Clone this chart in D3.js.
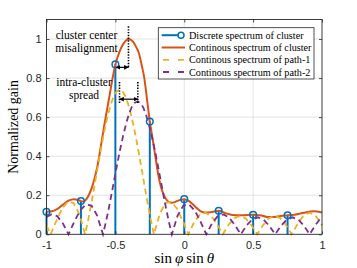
<!DOCTYPE html>
<html>
<head>
<meta charset="utf-8">
<script src="https://cdn.jsdelivr.net/npm/d3@7"></script>
<style>
  body { margin: 0; background: #fff; }
  .tick-label { font-family: 'Liberation Sans', Arial, sans-serif; font-size: 11px; fill: #262626; }
  .serif { font-family: 'Liberation Serif', 'Times New Roman', serif; fill: #000; }
</style>
</head>
<body>
<svg id="chart" width="357" height="268"></svg>
<script>
// ticks
const xTicks = [-1, -0.5, 0, 0.5, 1];
const yTicks = [0, 0.2, 0.4, 0.6, 0.8, 1];

// discrete spectrum of cluster (stems)
const stemX = [-1, -0.75, -0.5, -0.25, 0, 0.25, 0.5, 0.75];
const stemY = [0.115, 0.17, 0.87, 0.578, 0.18, 0.12, 0.1, 0.097];

// continuous spectrum of cluster
const clusterX = [-1, -0.96, -0.92, -0.88, -0.84, -0.8, -0.77, -0.75, -0.73, -0.71, -0.69,
  -0.67, -0.65, -0.63, -0.615, -0.6, -0.58, -0.56, -0.54, -0.52, -0.5,
  -0.48, -0.46, -0.44, -0.42, -0.405, -0.39, -0.37, -0.35, -0.33, -0.31,
  -0.29, -0.27, -0.25, -0.23, -0.21, -0.19, -0.17, -0.15, -0.13, -0.11,
  -0.09, -0.07, -0.05, -0.03, 0, 0.03, 0.06, 0.09, 0.12, 0.15,
  0.19, 0.25, 0.3, 0.35, 0.41, 0.5, 0.55, 0.6, 0.64, 0.7,
  0.75, 0.8, 0.86, 0.94, 1];
const clusterY = [0.115, 0.118, 0.13, 0.152, 0.172, 0.18, 0.176, 0.17, 0.168, 0.18, 0.205,
  0.24, 0.29, 0.35, 0.41, 0.475, 0.56, 0.64, 0.72, 0.8, 0.87,
  0.915, 0.952, 0.978, 0.994, 1.0, 0.997, 0.985, 0.96, 0.93, 0.87,
  0.8, 0.69, 0.578, 0.49, 0.4, 0.31, 0.245, 0.205, 0.178, 0.165,
  0.162, 0.165, 0.171, 0.176, 0.18, 0.172, 0.155, 0.135, 0.118, 0.112,
  0.113, 0.12, 0.108, 0.099, 0.097, 0.1, 0.098, 0.089, 0.088, 0.094,
  0.097, 0.1, 0.109, 0.118, 0.112];

// continuous spectrum of path-1
const path1X = [-1, -0.97, -0.928, -0.887, -0.845, -0.803, -0.762, -0.72,
  -0.699, -0.678, -0.6575, -0.637, -0.616, -0.595, -0.574, -0.553, -0.5325, -0.512, -0.491,
  -0.47, -0.449, -0.428, -0.4075, -0.387, -0.366, -0.345, -0.324, -0.303, -0.2825, -0.262, -0.241,
  -0.22, -0.178, -0.137, -0.095, -0.053, -0.012, 0.03, 0.072, 0.113, 0.155, 0.197, 0.238,
  0.28, 0.322, 0.363, 0.405, 0.447, 0.488, 0.53, 0.572, 0.613, 0.655, 0.697, 0.738,
  0.78, 0.822, 0.863, 0.905, 0.947, 0.988, 1];
const path1Y = [0.046, 0, 0.07, 0.132, 0.167, 0.16, 0.104, 0,
  0.068, 0.144, 0.225, 0.309, 0.393, 0.474, 0.549, 0.614, 0.667, 0.707, 0.732,
  0.74, 0.732, 0.707, 0.667, 0.614, 0.549, 0.474, 0.393, 0.309, 0.225, 0.144, 0.068,
  0, 0.104, 0.16, 0.167, 0.132, 0.07, 0, 0.062, 0.101, 0.111, 0.093, 0.052,
  0, 0.049, 0.083, 0.094, 0.081, 0.046, 0, 0.046, 0.081, 0.094, 0.083, 0.049,
  0, 0.052, 0.093, 0.111, 0.101, 0.062, 0.046];

// continuous spectrum of path-2
const path2X = [-1, -0.965, -0.923, -0.882, -0.84, -0.798, -0.757, -0.715, -0.673, -0.632,
  -0.59, -0.569, -0.548, -0.5275, -0.507, -0.486, -0.465, -0.444, -0.423, -0.4025, -0.382, -0.361,
  -0.34, -0.319, -0.298, -0.2775, -0.257, -0.236, -0.215, -0.194, -0.173, -0.1525, -0.132, -0.111,
  -0.09, -0.048, -0.007, 0.035, 0.077, 0.118, 0.16, 0.202, 0.243, 0.285, 0.327, 0.368,
  0.41, 0.452, 0.493, 0.535, 0.577, 0.618, 0.66, 0.702, 0.743, 0.785, 0.827, 0.868,
  0.91, 0.952, 0.993, 1];
const path2Y = [0.089, 0.102, 0.093, 0.057, 0, 0.065, 0.121, 0.153, 0.147, 0.096,
  0, 0.062, 0.132, 0.207, 0.284, 0.362, 0.436, 0.504, 0.564, 0.613, 0.65, 0.673,
  0.68, 0.673, 0.65, 0.613, 0.564, 0.504, 0.436, 0.362, 0.284, 0.207, 0.132, 0.062,
  0, 0.096, 0.147, 0.153, 0.121, 0.065, 0, 0.057, 0.093, 0.102, 0.085, 0.047,
  0, 0.045, 0.076, 0.087, 0.074, 0.043, 0, 0.043, 0.074, 0.087, 0.076, 0.045,
  0, 0.047, 0.085, 0.089];

const legendLabels = [
  'Discrete spectrum of cluster',
  'Continous spectrum of cluster',
  'Continous spectrum of path-1',
  'Continous spectrum of path-2',
];

const colors = { stem: '#0072BD', cluster: '#D95319', path1: '#EDB120', path2: '#7E2F8E' };

const box = { left: 46.5, right: 322, top: 19.5, bottom: 234.3 };

const svg = d3.select('#chart');
svg.append('rect').attr('width', 357).attr('height', 268).attr('fill', '#fff');

const x = d3.scaleLinear().domain([-1, 1]).range([box.left, box.right]);
const y = d3.scaleLinear().domain([0, 1.1]).range([box.bottom, box.top]);

const fmt = d => String(d);

// grid
const grid = svg.append('g').attr('class', 'grid');
grid.selectAll('line.gx')
  .data(xTicks.slice(1, -1))
  .enter()
  .append('line')
  .attr('x1', d => x(d)).attr('x2', d => x(d))
  .attr('y1', box.top).attr('y2', box.bottom)
  .attr('stroke', '#e3e3e3').attr('stroke-width', 1);
grid.selectAll('line.gy')
  .data(yTicks.slice(1))
  .enter()
  .append('line')
  .attr('x1', box.left).attr('x2', box.right)
  .attr('y1', d => y(d)).attr('y2', d => y(d))
  .attr('stroke', '#e3e3e3').attr('stroke-width', 1);

const plot = svg.append('g');

// stems
stemX.forEach((sx, i) => {
  plot.append('line')
    .attr('x1', x(sx)).attr('x2', x(sx))
    .attr('y1', y(0)).attr('y2', y(stemY[i]))
    .attr('stroke', colors.stem)
    .attr('stroke-width', 2);
});

const line = d3.line().x(d => x(d[0])).y(d => y(d[1]));

plot.append('path')
  .datum(d3.zip(clusterX, clusterY))
  .attr('d', line.curve(d3.curveMonotoneX))
  .attr('fill', 'none')
  .attr('stroke', colors.cluster)
  .attr('stroke-width', 2);

plot.append('path')
  .datum(d3.zip(path1X, path1Y))
  .attr('d', line.curve(d3.curveLinear))
  .attr('fill', 'none')
  .attr('stroke', colors.path1)
  .attr('stroke-width', 1.8)
  .attr('stroke-dasharray', '6,4');

plot.append('path')
  .datum(d3.zip(path2X, path2Y))
  .attr('d', line.curve(d3.curveLinear))
  .attr('fill', 'none')
  .attr('stroke', colors.path2)
  .attr('stroke-width', 1.8)
  .attr('stroke-dasharray', '6,4');

// stem markers
plot.selectAll('circle.m')
  .data(d3.zip(stemX, stemY))
  .enter()
  .append('circle')
  .attr('cx', d => x(d[0]))
  .attr('cy', d => y(d[1]))
  .attr('r', 3.3)
  .attr('fill', 'none')
  .attr('stroke', colors.stem)
  .attr('stroke-width', 1.5);

// axes (MATLAB style: inward ticks on all sides)
const axisStyle = g => {
  g.select('.domain').remove();
  g.selectAll('.tick line').attr('stroke', '#262626').attr('stroke-width', 0.8);
  g.selectAll('.tick text').attr('class', 'tick-label').attr('fill', null);
};

svg.append('g')
  .attr('transform', `translate(0,${box.bottom})`)
  .call(d3.axisBottom(x).tickValues(xTicks).tickSize(-3).tickPadding(7).tickFormat(fmt))
  .call(axisStyle);
svg.append('g')
  .attr('transform', `translate(0,${box.top})`)
  .call(d3.axisTop(x).tickValues(xTicks).tickSize(-3).tickFormat(''))
  .call(axisStyle);
svg.append('g')
  .attr('transform', `translate(${box.left},0)`)
  .call(d3.axisLeft(y).tickValues(yTicks).tickSize(-3).tickPadding(5).tickFormat(fmt))
  .call(axisStyle);
svg.append('g')
  .attr('transform', `translate(${box.right},0)`)
  .call(d3.axisRight(y).tickValues(yTicks).tickSize(-3).tickFormat(''))
  .call(axisStyle);

svg.selectAll('.tick-label').attr('font-family', null).attr('font-size', null);

svg.append('rect')
  .attr('x', box.left).attr('y', box.top)
  .attr('width', box.right - box.left).attr('height', box.bottom - box.top)
  .attr('fill', 'none').attr('stroke', '#262626').attr('stroke-width', 0.9);

// axis titles
const xt = svg.append('text')
  .attr('class', 'serif')
  .attr('x', (box.left + box.right) / 2)
  .attr('y', 263)
  .attr('text-anchor', 'middle')
  .attr('font-size', 15);
xt.append('tspan').text('sin\u2009');
xt.append('tspan').attr('font-style', 'italic').text('\u03C6');
xt.append('tspan').text('\u2009sin\u2009');
xt.append('tspan').attr('font-style', 'italic').text('\u03B8');

svg.append('text')
  .attr('class', 'serif')
  .attr('transform', `translate(18,${(box.top + box.bottom) / 2}) rotate(-90)`)
  .attr('text-anchor', 'middle')
  .attr('font-size', 14)
  .text('Normalized gain');

// annotations
const ann = svg.append('g').attr('class', 'annotation');
const dotted = (x1, y1, x2, y2) => ann.append('line')
  .attr('x1', x1).attr('y1', y1).attr('x2', x2).attr('y2', y2)
  .attr('stroke', '#000').attr('stroke-width', 1.6).attr('stroke-dasharray', '1.4,1.4');

svg.append('defs').append('marker')
  .attr('id', 'ah')
  .attr('viewBox', '0 0 10 10')
  .attr('refX', 9).attr('refY', 5)
  .attr('markerWidth', 4).attr('markerHeight', 4)
  .attr('orient', 'auto-start-reverse')
  .append('path')
  .attr('d', 'M0,0 L10,5 L0,10 z')
  .attr('fill', '#000');

const arrow = (x1, x2, yy) => ann.append('line')
  .attr('x1', x1).attr('y1', yy).attr('x2', x2).attr('y2', yy)
  .attr('stroke', '#000').attr('stroke-width', 1.2)
  .attr('marker-start', 'url(#ah)').attr('marker-end', 'url(#ah)');

dotted(x(-0.405), y(1.065), x(-0.405), y(0.85));
arrow(x(-0.495), x(-0.405), y(0.855));
dotted(x(-0.47), y(0.78), x(-0.47), y(0.67));
dotted(x(-0.337), y(0.78), x(-0.337), y(0.67));
arrow(x(-0.47), x(-0.337), y(0.692));

const note = (tx, ty, str) => ann.append('text')
  .attr('class', 'serif')
  .attr('x', tx).attr('y', ty)
  .attr('text-anchor', 'middle')
  .attr('font-size', 11.5)
  .text(str);
note(86.5, 38.5, 'cluster center');
note(86.5, 52, 'misalignment');
note(84, 85.5, 'intra-cluster');
note(84, 99, 'spread');

// legend
const lg = svg.append('g').attr('class', 'legend');
lg.append('rect')
  .attr('x', 158.3).attr('y', 27.7)
  .attr('width', 155.7).attr('height', 51.3)
  .attr('fill', '#fff').attr('stroke', '#262626').attr('stroke-width', 0.8);

const rowY = [35.2, 47.5, 59.8, 72];
legendLabels.forEach((label, i) => {
  const ly = rowY[i];
  const ln = lg.append('line')
    .attr('x1', 161.7).attr('x2', 185)
    .attr('y1', ly).attr('y2', ly)
    .attr('stroke-width', i < 2 ? 2 : 1.8);
  if (i === 0) {
    ln.attr('stroke', colors.stem).attr('x2', 181);
    lg.append('circle')
      .attr('cx', 181).attr('cy', ly).attr('r', 3)
      .attr('fill', '#fff').attr('stroke', colors.stem).attr('stroke-width', 1.5);
  } else if (i === 1) {
    ln.attr('stroke', colors.cluster);
  } else {
    ln.attr('stroke', i === 2 ? colors.path1 : colors.path2)
      .attr('x1', 163).attr('x2', 184)
      .attr('stroke-dasharray', '6,9');
  }
  lg.append('text')
    .attr('class', 'serif')
    .attr('x', 189).attr('y', ly + 3.5)
    .attr('font-size', 10.2)
    .text(label);
});
</script>
</body>
</html>
